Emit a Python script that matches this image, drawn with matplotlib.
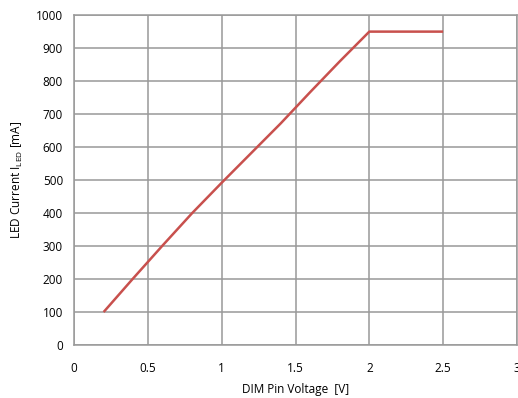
import matplotlib.pyplot as plt

# values
voltage = [0.2, 0.4, 0.6, 0.8, 1.0, 1.2, 1.4, 1.6, 1.8, 2.0, 2.5]
current = [100, 202, 302, 400, 492, 582, 672, 767, 860, 950, 950]
x_ticks = [0, 0.5, 1, 1.5, 2, 2.5, 3]
x_tick_labels = ['0', '0.5', '1', '1.5', '2', '2.5', '3']
y_ticks = list(range(0, 1001, 100))

plt.rcParams['font.family'] = ['Open Sans', 'DejaVu Sans']

fig = plt.figure(figsize=(5.18, 3.98), dpi=100)
ax = fig.add_axes([0.143, 0.133, 0.855, 0.829])

ax.plot(voltage, current, color='#C8504D', linewidth=1.8, solid_capstyle='butt')

ax.set_xlim(0, 3)
ax.set_ylim(0, 1000)
ax.set_xticks(x_ticks)
ax.set_xticklabels(x_tick_labels)
ax.set_yticks(y_ticks)
ax.grid(True, color='#999999', linewidth=1.1)
ax.set_axisbelow(True)
for s in ax.spines.values():
    s.set_color('#999999')
    s.set_linewidth(1.1)
ax.tick_params(length=0, labelsize=8.5, colors='black', pad=8)
ax.tick_params(axis='x', pad=12)

ax.set_xlabel('DIM Pin Voltage  [V]', fontsize=8.5, labelpad=6)
ax.set_ylabel(r'LED Current I$_{\mathregular{LED}}$ [mA]', fontsize=8.5, labelpad=8)

fig.savefig('out.png', dpi=100)
